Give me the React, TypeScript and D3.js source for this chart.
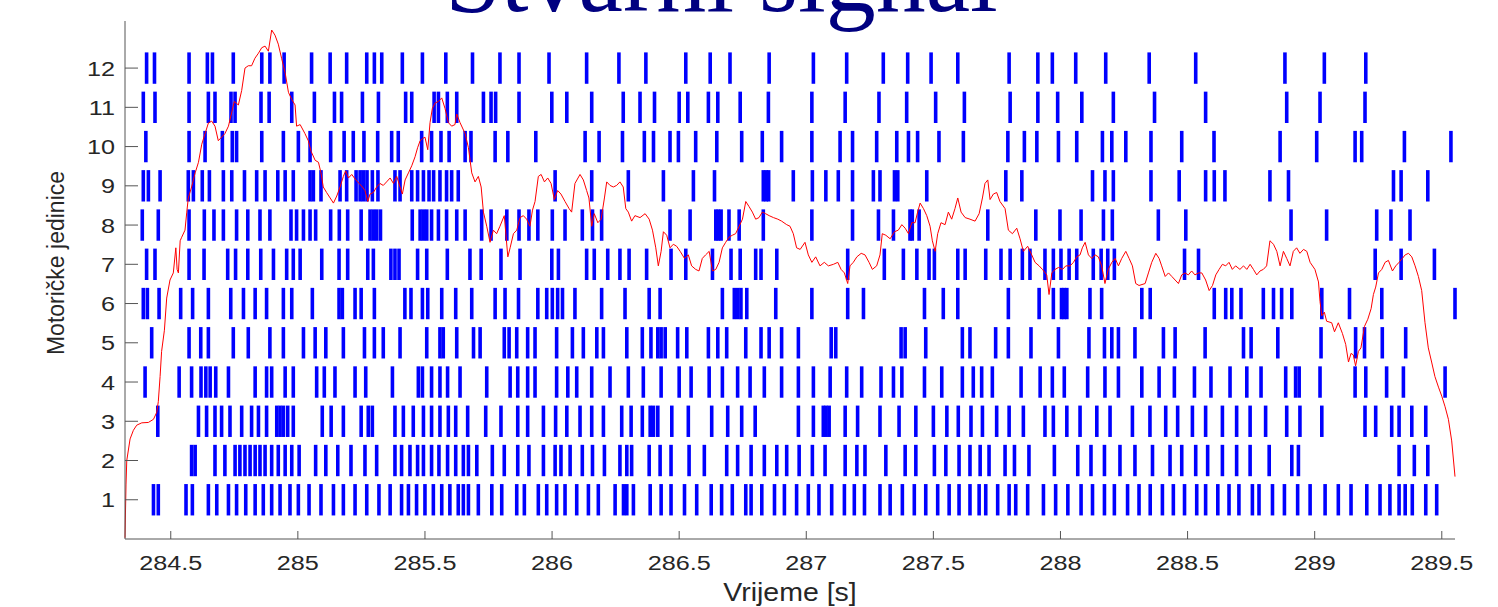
import React from "react";
import * as d3 from "d3";

// Spike times (s) for each motor unit (rows 1..12)
const unit1 = [284.432, 284.451, 284.560, 284.585, 284.648, 284.681, 284.727, 284.759, 284.795, 284.832, 284.864, 284.897, 284.930, 284.969,
  285.002, 285.044, 285.091, 285.140, 285.179, 285.225, 285.271, 285.319, 285.363, 285.408, 285.435, 285.467, 285.500, 285.533, 285.566, 285.598, 285.631,
  285.651, 285.671, 285.710, 285.763, 285.802, 285.861, 285.891, 285.946, 285.979, 286.018, 286.051, 286.097, 286.143, 286.182, 286.248, 286.281, 286.294, 286.320,
  286.386, 286.429, 286.468, 286.521, 286.569, 286.626, 286.667, 286.709, 286.762, 286.783, 286.825, 286.875, 286.914, 286.962,
  287.008, 287.050, 287.100, 287.150, 287.189, 287.229, 287.290, 287.330, 287.378, 287.425, 287.470, 287.517, 287.562, 287.601, 287.644,
  287.680, 287.706, 287.753, 287.798, 287.824, 287.871, 287.933, 287.981, 288.029, 288.081, 288.126, 288.173, 288.212, 288.264, 288.309,
  288.353, 288.401, 288.444, 288.488, 288.536, 288.571, 288.619, 288.663, 288.702, 288.755, 288.781, 288.834, 288.881, 288.933, 288.982,
  289.041, 289.093, 289.143, 289.205, 289.257, 289.296, 289.332, 289.356, 289.384, 289.437, 289.480];
const unit2 = [284.582, 284.596, 284.674, 284.713, 284.753, 284.772, 284.792, 284.812, 284.832, 284.851, 284.871, 284.897, 284.923, 284.950, 284.976,
  285.005, 285.070, 285.110, 285.157, 285.209, 285.264, 285.310, 285.382, 285.408, 285.441, 285.471, 285.494, 285.526, 285.555, 285.589, 285.621,
  285.651, 285.671, 285.704, 285.765, 285.812, 285.865, 285.909, 285.966, 286.012, 286.035, 286.071, 286.119, 286.159, 286.206, 286.267, 286.294, 286.313,
  286.382, 286.425, 286.468, 286.539, 286.599, 286.687, 286.730, 286.783, 286.835, 286.884, 286.923, 286.972,
  287.024, 287.074, 287.153, 287.199, 287.231, 287.313, 287.389, 287.431, 287.504, 287.549, 287.601, 287.644,
  287.684, 287.719, 287.782, 287.819, 287.876, 287.976, 288.068, 288.120, 288.173, 288.234, 288.293,
  288.362, 288.431, 288.477, 288.532, 288.579, 288.637, 288.693, 288.746, 288.821, 288.910, 288.936,
  289.332, 289.392, 289.445];
const unit3 = [284.449, 284.609, 284.641, 284.674, 284.700, 284.733, 284.779, 284.818, 284.845, 284.877, 284.917, 284.930, 284.943, 284.960, 284.982,
  285.096, 285.131, 285.179, 285.249, 285.277, 285.293, 285.382, 285.415, 285.454, 285.494, 285.526, 285.559, 285.592, 285.621,
  285.668, 285.739, 285.799, 285.865, 285.904, 285.966, 286.014, 286.058, 286.110, 286.156, 286.202, 286.274, 286.311,
  286.355, 286.386, 286.399, 286.416, 286.471, 286.536, 286.628, 286.691, 286.746, 286.799, 286.969,
  287.028, 287.067, 287.078, 287.090, 287.153, 287.202, 287.290, 287.365, 287.431, 287.500, 287.553, 287.598, 287.648,
  287.693, 287.749, 287.798, 287.854, 287.939, 287.972, 288.025, 288.077, 288.143, 288.195, 288.283,
  288.352, 288.414, 288.461, 288.519, 288.571, 288.637, 288.693, 288.746, 288.807, 288.890, 288.942,
  289.028, 289.198, 289.240, 289.303, 289.332, 289.382, 289.437];
const unit4 = [284.399, 284.533, 284.582, 284.619, 284.638, 284.655, 284.677, 284.727, 284.832, 284.877, 284.897, 284.950, 284.982,
  285.074, 285.104, 285.146, 285.225, 285.267, 285.372, 285.474, 285.490, 285.526, 285.559, 285.589, 285.638,
  285.743, 285.835, 285.865, 285.904, 285.933, 286.018, 286.062, 286.097, 286.156, 286.228, 286.300,
  286.359, 286.429, 286.500, 286.547, 286.618, 286.670, 286.730, 286.779, 286.835, 286.903, 286.969,
  287.028, 287.094, 287.159, 287.218, 287.294, 287.343, 287.376, 287.465, 287.533, 287.614, 287.657,
  287.690, 287.732, 287.845, 287.920, 287.968, 288.015, 288.107, 288.175, 288.228, 288.320,
  288.388, 288.448, 288.527, 288.592, 288.667, 288.733, 288.789, 288.886, 288.925, 288.939,
  289.021, 289.159, 289.201, 289.283, 289.349, 289.513];
const unit5 = [284.425, 284.572, 284.618, 284.648, 284.746, 284.805, 284.890, 284.943,
  285.022, 285.068, 285.110, 285.179, 285.262, 285.301, 285.336, 285.402, 285.507, 285.559, 285.572, 285.625,
  285.691, 285.717, 285.812, 285.831, 285.861, 285.904, 285.933, 286.018, 286.080, 286.123, 286.176, 286.202, 286.294,
  286.355, 286.389, 286.416, 286.429, 286.445, 286.494, 286.530, 286.615, 286.652, 286.687, 286.762, 286.822, 286.854, 286.903, 286.969,
  287.098, 287.116, 287.373, 287.389, 287.470, 287.614, 287.644,
  287.745, 287.795, 287.884, 287.992, 288.112, 288.173, 288.202, 288.228, 288.293,
  288.405, 288.451, 288.569, 288.720, 288.750, 288.855,
  289.025, 289.161, 289.196, 289.266, 289.358];
const unit6 = [284.392, 284.408, 284.454, 284.539, 284.586, 284.648, 284.736, 284.786, 284.832, 284.877, 284.943, 284.976,
  285.057, 285.162, 285.175, 285.225, 285.249, 285.301, 285.421, 285.445, 285.490, 285.511, 285.566, 285.621,
  285.684, 285.776, 285.815, 285.868, 285.944, 285.979, 286.001, 286.022, 286.041, 286.090, 286.195, 286.287,
  286.382, 286.425, 286.670, 286.717, 286.730, 286.743, 286.766, 286.880,
  287.022, 287.163, 287.225, 287.465, 287.539, 287.596,
  287.795, 287.916, 287.972, 288.004, 288.014, 288.025, 288.116, 288.162, 288.320,
  288.353, 288.605, 288.650, 288.674, 288.710, 288.798, 288.838, 288.870, 288.910,
  289.028, 289.137, 289.264, 289.552];
const unit7 = [284.405, 284.438, 284.572, 284.631, 284.724, 284.755, 284.803, 284.854, 284.904, 284.956, 284.982,
  285.009, 285.094, 285.162, 285.196, 285.275, 285.297, 285.366, 285.382, 285.398, 285.471, 285.507, 285.588,
  285.677, 285.721, 285.799, 285.874, 285.999, 286.025, 286.136, 286.166, 286.219, 286.267, 286.303,
  286.372, 286.468, 286.526, 286.631, 286.704, 286.740, 286.801, 286.822, 286.884,
  287.163, 287.307, 287.382, 287.435, 287.483, 287.504, 287.596, 287.625,
  287.706, 287.766, 287.802, 287.850, 287.880, 287.939, 287.972, 288.002, 288.034, 288.064, 288.129, 288.160, 288.186, 288.212,
  288.488, 288.543,
  289.238, 289.340, 289.471];
const unit8 = [284.388, 284.451, 284.572, 284.632, 284.670, 284.707, 284.759, 284.803, 284.851, 284.890, 284.973,
  284.995, 285.022, 285.048, 285.070, 285.129, 285.163, 285.196, 285.249, 285.284, 285.297, 285.310, 285.325, 285.450, 285.481, 285.494, 285.507, 285.526, 285.553, 285.585, 285.625,
  285.658, 285.723, 285.760, 285.822, 285.870, 285.909, 285.944, 286.001, 286.051, 286.119, 286.159, 286.195,
  286.464, 286.543, 286.644, 286.654, 286.665, 286.696, 286.736, 286.831,
  287.022, 287.182, 287.284, 287.343, 287.408, 287.417, 287.444,
  287.714, 287.903, 287.998, 288.081, 288.169, 288.204,
  288.385, 288.493, 288.907,
  289.047, 289.244, 289.300, 289.375];
const unit9 = [284.392, 284.412, 284.458, 284.569, 284.589, 284.624, 284.652, 284.707, 284.740, 284.790, 284.838, 284.871, 284.921, 284.950, 284.982,
  285.048, 285.061, 285.091, 285.166, 285.192, 285.229, 285.245, 285.258, 285.272, 285.293, 285.315, 285.382, 285.402, 285.448, 285.471, 285.494, 285.516, 285.534, 285.559, 285.585, 285.605, 285.631,
  286.012, 286.156, 286.300,
  286.438, 286.556, 286.639, 286.831, 286.842, 286.852, 286.949,
  287.024, 287.077, 287.126, 287.182, 287.264, 287.290, 287.347, 287.360, 287.474,
  287.785, 287.848, 288.126, 288.175, 288.208,
  288.356, 288.467, 288.571, 288.605, 288.647, 288.824, 288.897,
  289.310, 289.340, 289.445];
const unit10 = [284.402, 284.572, 284.635, 284.703, 284.742, 284.759, 284.858, 284.943,
  285.002, 285.048, 285.129, 285.182, 285.218, 285.260, 285.314, 285.369, 285.395, 285.487, 285.526, 285.563, 285.595,
  285.658, 285.681, 285.776, 285.826, 285.936, 286.130, 286.185, 286.277,
  286.363, 286.399, 286.464, 286.497, 286.565, 286.648, 286.746, 286.827, 286.903,
  287.022, 287.133, 287.182, 287.277, 287.356, 287.402, 287.438, 287.522, 287.618,
  287.793, 287.858, 287.907, 287.992, 288.064, 288.165, 288.202, 288.257,
  288.356, 288.477, 288.604, 288.864,
  289.008, 289.159, 289.185, 289.353, 289.536];
const unit11 = [284.392, 284.438, 284.572, 284.648, 284.674, 284.737, 284.753, 284.855, 284.887,
  284.976, 285.065, 285.144, 285.172, 285.254, 285.317, 285.424, 285.448, 285.536, 285.553, 285.588, 285.625,
  285.730, 285.760, 285.778, 285.870, 285.999, 286.058, 286.156, 286.280,
  286.346, 286.403, 286.500, 286.534, 286.615, 286.652, 286.740, 286.851,
  287.022, 287.153, 287.286, 287.395, 287.509, 287.622,
  287.802, 287.911, 287.989, 288.084, 288.208,
  288.370, 288.571, 288.890,
  289.021, 289.198];
const unit12 = [284.405, 284.436, 284.572, 284.644, 284.664, 284.746, 284.858, 284.890, 284.946,
  285.054, 285.127, 285.192, 285.271, 285.301, 285.330, 285.411, 285.490, 285.582,
  285.687, 285.795, 285.870, 285.988, 286.136, 286.263,
  286.369, 286.526, 286.622, 286.700, 286.854,
  287.028, 287.159, 287.303, 287.399, 287.491, 287.596,
  287.798, 287.911, 287.968, 288.060, 288.178,
  288.349, 288.532, 288.883,
  289.038, 289.201];

const units = [unit1, unit2, unit3, unit4, unit5, unit6, unit7, unit8, unit9, unit10, unit11, unit12];

// Force signal [time s, value in axis units]
const forceSignal: [number, number][] = [
  [284.320, 0.03], [284.324, 1.4], [284.327, 2.0], [284.340, 2.55], [284.353, 2.77], [284.366, 2.90], [284.386, 2.96], [284.412, 2.97],
  [284.432, 3.05], [284.445, 3.23], [284.451, 3.50], [284.458, 4.14], [284.464, 4.78], [284.475, 5.32], [284.484, 6.14], [284.497, 6.60],
  [284.510, 6.78], [284.520, 7.42], [284.525, 6.87], [284.530, 6.78], [284.537, 7.60], [284.543, 7.69], [284.556, 7.87], [284.563, 8.33],
  [284.569, 8.69], [284.582, 8.97], [284.596, 9.33], [284.609, 9.60], [284.622, 10.06], [284.635, 10.33], [284.648, 10.60], [284.661, 10.65],
  [284.674, 10.52], [284.687, 10.15], [284.700, 10.24], [284.713, 10.33], [284.727, 10.52], [284.740, 10.88], [284.750, 11.15], [284.766, 11.06],
  [284.779, 11.43], [284.792, 12.00], [284.805, 12.06], [284.818, 12.06], [284.831, 12.25], [284.845, 12.38], [284.858, 12.52], [284.871, 12.56],
  [284.884, 12.43], [284.897, 12.97], [284.910, 12.84], [284.923, 12.61], [284.936, 12.25], [284.950, 11.88], [284.963, 11.38], [284.976, 11.20],
  [284.989, 11.06], [284.995, 10.52], [285.009, 10.56], [285.028, 10.33], [285.041, 10.15], [285.052, 9.88], [285.068, 9.65], [285.081, 9.60],
  [285.091, 9.33], [285.100, 8.97], [285.113, 8.83], [285.127, 8.69], [285.140, 8.56], [285.153, 8.74], [285.166, 8.97], [285.179, 9.24],
  [285.188, 9.38], [285.199, 9.20], [285.212, 9.29], [285.228, 9.15], [285.241, 9.06], [285.254, 8.97], [285.264, 8.88], [285.275, 8.60],
  [285.284, 8.79], [285.297, 8.83], [285.310, 8.97], [285.323, 9.06], [285.336, 9.01], [285.349, 9.10], [285.363, 9.20], [285.376, 9.06],
  [285.389, 9.24], [285.402, 8.97], [285.411, 8.79], [285.422, 9.15], [285.435, 9.33], [285.448, 9.51], [285.461, 9.74], [285.471, 9.97],
  [285.481, 10.15], [285.490, 10.20], [285.500, 10.24], [285.511, 9.92], [285.520, 10.61], [285.529, 10.97], [285.540, 11.11], [285.553, 11.15],
  [285.566, 11.24], [285.579, 10.97], [285.592, 10.61], [285.605, 10.52], [285.618, 10.56], [285.625, 10.83], [285.638, 10.61], [285.658, 10.33],
  [285.671, 9.97], [285.684, 9.33], [285.697, 9.10], [285.710, 9.24], [285.721, 8.97], [285.730, 8.33], [285.743, 7.97], [285.756, 7.56],
  [285.769, 7.87], [285.782, 7.78], [285.795, 7.97], [285.812, 8.24], [285.826, 7.19], [285.835, 7.42], [285.848, 7.78], [285.861, 7.87],
  [285.874, 8.19], [285.887, 8.24], [285.900, 8.15], [285.913, 7.97], [285.923, 8.38], [285.933, 8.60], [285.946, 9.24], [285.957, 9.29],
  [285.970, 9.10], [285.983, 9.20], [285.996, 9.06], [286.009, 8.65], [286.022, 8.88], [286.035, 8.79], [286.051, 8.60], [286.067, 8.42],
  [286.077, 8.33], [286.090, 9.06], [286.110, 9.29], [286.123, 9.15], [286.136, 8.88], [286.145, 8.69], [286.156, 7.97], [286.166, 8.29],
  [286.180, 8.06], [286.193, 8.15], [286.206, 8.69], [286.215, 9.10], [286.228, 9.01], [286.241, 8.97], [286.254, 9.01], [286.267, 9.10],
  [286.280, 8.97], [286.290, 8.42], [286.300, 8.33], [286.313, 8.10], [286.326, 8.24], [286.346, 8.19], [286.366, 8.29], [286.382, 8.15],
  [286.395, 7.87], [286.408, 7.42], [286.418, 6.96], [286.429, 7.33], [286.438, 7.83], [286.451, 7.74], [286.464, 7.42], [286.477, 7.51],
  [286.490, 7.46], [286.504, 7.33], [286.521, 7.15], [286.536, 7.24], [286.549, 6.96], [286.565, 6.87], [286.578, 6.83], [286.591, 7.15],
  [286.604, 7.24], [286.618, 7.33], [286.631, 6.83], [286.644, 6.87], [286.657, 7.05], [286.670, 7.42], [286.683, 7.56], [286.696, 7.69],
  [286.709, 7.74], [286.722, 7.78], [286.736, 7.97], [286.749, 8.15], [286.762, 8.60], [286.775, 8.47], [286.788, 8.33], [286.801, 8.15],
  [286.814, 8.19], [286.827, 8.33], [286.840, 8.29], [286.854, 8.24], [286.871, 8.19], [286.888, 8.15], [286.903, 8.10], [286.923, 8.01],
  [286.936, 7.97], [286.949, 7.78], [286.962, 7.42], [286.976, 7.38], [286.995, 7.56], [287.008, 7.24], [287.022, 7.05], [287.037, 7.19],
  [287.054, 6.96], [287.071, 7.05], [287.087, 6.96], [287.107, 7.00], [287.124, 7.05], [287.137, 6.87], [287.150, 6.78], [287.163, 6.51],
  [287.172, 6.96], [287.185, 7.05], [287.199, 7.19], [287.216, 7.28], [287.231, 7.24], [287.247, 7.05], [287.260, 6.87], [287.277, 6.96],
  [287.290, 7.24], [287.299, 7.78], [287.313, 7.74], [287.330, 7.65], [287.347, 7.83], [287.362, 7.87], [287.376, 8.01], [287.389, 7.92],
  [287.402, 7.78], [287.415, 8.06], [287.428, 8.06], [287.438, 8.33], [287.448, 8.56], [287.461, 8.42], [287.474, 8.24], [287.487, 7.97],
  [287.496, 7.60], [287.507, 7.33], [287.517, 7.78], [287.530, 8.06], [287.546, 8.01], [287.559, 8.33], [287.572, 8.15], [287.585, 8.42],
  [287.596, 8.69], [287.609, 8.33], [287.625, 8.19], [287.644, 8.15], [287.664, 8.10], [287.680, 8.29], [287.693, 8.69], [287.703, 9.06],
  [287.714, 9.15], [287.723, 8.65], [287.736, 8.79], [287.749, 8.83], [287.762, 8.60], [287.782, 8.42], [287.795, 7.87], [287.811, 7.78],
  [287.828, 7.92], [287.841, 7.65], [287.854, 7.33], [287.871, 7.46], [287.887, 7.24], [287.900, 7.05], [287.916, 6.96], [287.929, 6.87],
  [287.946, 6.73], [287.955, 6.23], [287.966, 6.78], [287.979, 6.87], [287.992, 6.92], [288.008, 6.87], [288.021, 6.96], [288.038, 6.96],
  [288.051, 7.05], [288.064, 7.19], [288.077, 7.24], [288.086, 7.42], [288.097, 7.56], [288.110, 7.24], [288.123, 7.15], [288.136, 7.24],
  [288.149, 7.19], [288.162, 6.96], [288.175, 6.51], [288.188, 6.87], [288.202, 7.05], [288.215, 7.15], [288.228, 6.96], [288.241, 7.15],
  [288.257, 7.33], [288.270, 7.15], [288.283, 6.96], [288.296, 6.51], [288.309, 6.46], [288.333, 6.51], [288.346, 6.78], [288.359, 7.05],
  [288.375, 7.28], [288.388, 7.15], [288.398, 6.96], [288.412, 6.69], [288.425, 6.78], [288.438, 6.69], [288.451, 6.60], [288.464, 6.51],
  [288.477, 6.73], [288.490, 6.78], [288.503, 6.73], [288.516, 6.83], [288.529, 6.73], [288.543, 6.78], [288.556, 6.78], [288.571, 6.60],
  [288.585, 6.33], [288.598, 6.46], [288.611, 6.73], [288.624, 6.87], [288.637, 7.00], [288.650, 6.96], [288.663, 7.05], [288.676, 6.87],
  [288.689, 6.96], [288.706, 6.87], [288.720, 6.96], [288.733, 6.87], [288.746, 7.00], [288.759, 6.87], [288.772, 6.73], [288.785, 6.83],
  [288.798, 6.87], [288.811, 6.96], [288.824, 7.60], [288.838, 7.51], [288.851, 7.33], [288.864, 6.96], [288.877, 7.33], [288.890, 7.15],
  [288.903, 6.96], [288.916, 7.33], [288.929, 7.42], [288.942, 7.28], [288.956, 7.38], [288.969, 7.33], [288.982, 7.05], [289.001, 6.87],
  [289.015, 6.55], [289.021, 6.05], [289.028, 5.69], [289.038, 5.78], [289.047, 5.55], [289.067, 5.51], [289.078, 5.28], [289.093, 5.51],
  [289.109, 5.24], [289.122, 4.96], [289.133, 4.51], [289.143, 4.73], [289.152, 4.69], [289.161, 4.41], [289.172, 4.78], [289.182, 4.87],
  [289.196, 5.42], [289.209, 5.60], [289.222, 5.87], [289.231, 6.23], [289.240, 6.42], [289.251, 6.78], [289.264, 6.87], [289.277, 7.05],
  [289.290, 7.10], [289.306, 6.83], [289.319, 6.96], [289.332, 7.05], [289.345, 7.15], [289.356, 7.24], [289.369, 7.28], [289.382, 7.19],
  [289.395, 6.96], [289.408, 6.69], [289.421, 6.33], [289.434, 5.51], [289.447, 4.87], [289.460, 4.51], [289.473, 4.14], [289.487, 3.87],
  [289.500, 3.64], [289.513, 3.37], [289.526, 3.05], [289.539, 2.50], [289.552, 1.59]
];

const xTicks = [284.5, 285, 285.5, 286, 286.5, 287, 287.5, 288, 288.5, 289, 289.5];
const yTicks = [1, 2, 3, 4, 5, 6, 7, 8, 9, 10, 11, 12];
const title = "Stvarni signal";
const xLabel = "Vrijeme [s]";
const yLabel = "Motoričke jedinice";

const W = 1498, H = 607;
const left = 125, right = 1455, top = 21, bottom = 539;

export default function App() {
  const x = d3.scaleLinear().domain([284.32, 289.552]).range([left, right]);
  const y = d3.scaleLinear().domain([0, 13.2]).range([bottom, top]);
  const line = d3.line<[number, number]>().x(d => x(d[0])).y(d => y(d[1]));
  const font = "'Liberation Sans', Arial, sans-serif";
  const axisColor = "#555555";
  const textColor = "#262626";

  return (
    <svg width={W} height={H} style={{ position: "absolute", left: 0, top: 0, background: "#fff" }}>
      <rect x={0} y={0} width={W} height={H} fill="#fff" />
      <text x={721.5} y={11} textAnchor="middle" fontFamily="'Liberation Serif', 'Times New Roman', serif" fontSize={100} fill="#000080">{title}</text>

      {units.map((times, i) => (
        <g key={i}>
          {times.map((t, j) => (
            <line key={j} x1={x(t)} x2={x(t)} y1={y(i + 1 - 0.4)} y2={y(i + 1 + 0.4)} stroke="#0000ff" strokeWidth={3.6} />
          ))}
        </g>
      ))}

      <path d={line(forceSignal) || ""} fill="none" stroke="#ff0000" strokeWidth={1} />

      {/* axes */}
      <line x1={left} x2={left} y1={top} y2={bottom} stroke={axisColor} strokeWidth={1} />
      <line x1={left} x2={right} y1={bottom} y2={bottom} stroke={axisColor} strokeWidth={1} />
      {xTicks.map(t => (
        <g key={t}>
          <line x1={x(t)} x2={x(t)} y1={bottom} y2={bottom - 8} stroke={axisColor} strokeWidth={1} />
          <text transform={`translate(${x(t)},570) scale(1.2,1)`} textAnchor="middle" fontFamily={font} fontSize={21} fill={textColor}>{String(t)}</text>
        </g>
      ))}
      {yTicks.map(v => (
        <g key={v}>
          <line x1={left} x2={left + 13} y1={y(v)} y2={y(v)} stroke={axisColor} strokeWidth={1} />
          <text transform={`translate(115,${y(v) + 7.5}) scale(1.2,1)`} textAnchor="end" fontFamily={font} fontSize={21} fill={textColor}>{String(v)}</text>
        </g>
      ))}
      <text transform={`translate(${(left + right) / 2},601) scale(1.14,1)`} textAnchor="middle" fontFamily={font} fontSize={25} fill={textColor}>{xLabel}</text>
      <text transform={`translate(64,263) rotate(-90)`} textAnchor="middle" fontFamily={font} fontSize={23} fill={textColor}>{yLabel}</text>
    </svg>
  );
}
